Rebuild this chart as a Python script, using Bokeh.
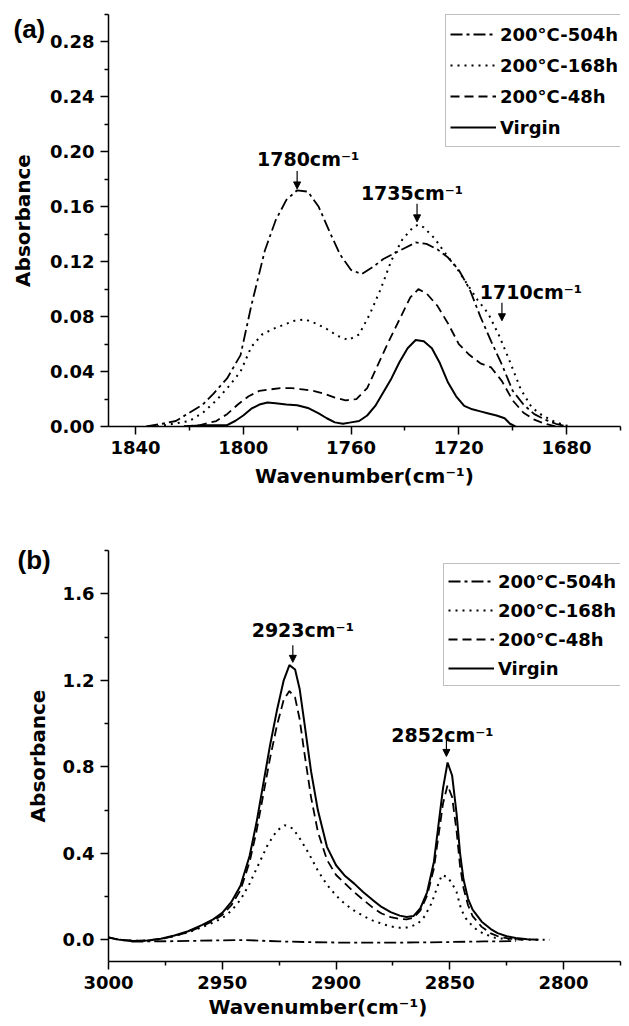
import math
from bokeh.plotting import figure
from bokeh.models import (Range1d, FixedTicker, NumeralTickFormatter, Legend, LegendItem,
                          Label, Arrow, NormalHead, Title)
from bokeh.layouts import column
from bokeh.embed import file_html
from bokeh.resources import INLINE

# ---------------- data ----------------
series_labels = ["200°C-504h", "200°C-168h", "200°C-48h", "Virgin"]

# panel (a): 1850-1660 cm-1
a_x504 = [1836, 1830, 1825, 1820, 1815, 1811, 1806, 1801, 1797, 1792, 1788, 1784, 1780, 1776,
          1772, 1768, 1764, 1760, 1756, 1752, 1748, 1744, 1740, 1736, 1732, 1728, 1724, 1720,
          1716, 1712, 1708, 1704, 1700, 1696, 1692, 1688, 1684, 1680]
a_y504 = [0.000, 0.002, 0.004, 0.010, 0.016, 0.024, 0.035, 0.052, 0.088, 0.128, 0.150, 0.165,
          0.172, 0.171, 0.160, 0.142, 0.125, 0.114, 0.111, 0.116, 0.122, 0.126, 0.130, 0.134,
          0.133, 0.129, 0.123, 0.114, 0.100, 0.080, 0.062, 0.045, 0.026, 0.016, 0.009, 0.005,
          0.002, 0.000]

a_x168 = [1832, 1826, 1820, 1815, 1810, 1805, 1801, 1797, 1793, 1789, 1785, 1781, 1777, 1773,
          1769, 1765, 1761, 1757, 1753, 1749, 1745, 1741, 1737, 1735, 1733, 1729, 1725, 1721,
          1717, 1713, 1709, 1705, 1701, 1697, 1693, 1689, 1685, 1681, 1678]
a_y168 = [0.000, 0.002, 0.004, 0.010, 0.019, 0.030, 0.040, 0.058, 0.067, 0.071, 0.074, 0.077,
          0.078, 0.075, 0.071, 0.066, 0.063, 0.067, 0.082, 0.100, 0.121, 0.136, 0.145, 0.147,
          0.145, 0.137, 0.126, 0.116, 0.104, 0.092, 0.082, 0.066, 0.047, 0.027, 0.014, 0.008,
          0.004, 0.001, 0.000]

a_x48 = [1822, 1816, 1810, 1806, 1802, 1798, 1794, 1790, 1786, 1782, 1778, 1774, 1770, 1766,
         1762, 1758, 1754, 1750, 1746, 1742, 1738, 1735, 1732, 1728, 1724, 1720, 1716, 1712,
         1708, 1704, 1700, 1696, 1692, 1688, 1684]
a_y48 = [0.000, 0.001, 0.004, 0.009, 0.016, 0.022, 0.026, 0.027, 0.028, 0.028, 0.027, 0.026,
         0.024, 0.021, 0.019, 0.020, 0.028, 0.045, 0.062, 0.078, 0.094, 0.100, 0.097, 0.088,
         0.075, 0.060, 0.052, 0.046, 0.043, 0.033, 0.019, 0.010, 0.005, 0.002, 0.000]

a_xv = [1822, 1815, 1810, 1806, 1803, 1800, 1797, 1794, 1791, 1788, 1784, 1780, 1776, 1772,
        1769, 1766, 1763, 1760, 1757, 1754, 1751, 1748, 1745, 1742, 1739, 1736, 1733, 1730,
        1727, 1724, 1721, 1718, 1715, 1712, 1709, 1706, 1703, 1701, 1699]
a_yv = [0.000, 0.001, 0.001, 0.001, 0.004, 0.008, 0.013, 0.016, 0.0175, 0.017, 0.016, 0.0155,
        0.0135, 0.0095, 0.006, 0.003, 0.002, 0.003, 0.004, 0.008, 0.015, 0.025, 0.035, 0.047,
        0.057, 0.063, 0.062, 0.057, 0.046, 0.032, 0.022, 0.015, 0.0125, 0.011, 0.0095, 0.008,
        0.006, 0.002, 0.000]

a_ann_x = [1780, 1735.5, 1704]
a_ann_y = [0.173, 0.149, 0.077]
a_ann_text = ["1780cm⁻¹", "1735cm⁻¹", "1710cm⁻¹"]

# panel (b): 3000-2775 cm-1
b_x504 = [2990, 2970, 2950, 2940, 2925, 2910, 2895, 2880, 2865, 2850, 2835, 2821]
b_y504 = [-0.008, -0.006, -0.002, -0.001, -0.007, -0.011, -0.013, -0.013, -0.012, -0.010,
          -0.007, -0.006]

b_x168 = [3000, 2995, 2989, 2983, 2977, 2971, 2965, 2959, 2954, 2950, 2946, 2942, 2938, 2934,
          2930, 2926, 2922.5, 2919, 2916, 2912, 2908, 2904, 2900, 2896, 2892, 2888, 2884, 2880,
          2876, 2872, 2868, 2864, 2861, 2858, 2855.5, 2853.5, 2851, 2849, 2847, 2845, 2843,
          2841, 2838, 2835, 2830, 2824, 2815, 2806]
b_y168 = [0.011, 0.000, -0.005, -0.003, 0.004, 0.018, 0.035, 0.058, 0.080, 0.100, 0.135, 0.185,
          0.260, 0.350, 0.440, 0.505, 0.530, 0.515, 0.470, 0.400, 0.320, 0.255, 0.205, 0.165,
          0.135, 0.110, 0.090, 0.075, 0.062, 0.056, 0.058, 0.075, 0.110, 0.170, 0.245, 0.300,
          0.290, 0.260, 0.220, 0.140, 0.100, 0.075, 0.045, 0.028, 0.009, 0.003, 0.001, 0.000]

b_x48 = [3000, 2995, 2989, 2983, 2977, 2971, 2965, 2959, 2954, 2950, 2946, 2942, 2938, 2935,
         2932, 2929, 2926, 2923, 2920.5, 2918, 2916, 2914, 2911, 2908, 2904, 2900, 2896, 2892,
         2888, 2884, 2880, 2876, 2872, 2869, 2866, 2863, 2860, 2857, 2855, 2853, 2851, 2849,
         2847, 2845.5, 2844, 2842, 2840, 2836, 2832, 2828, 2823, 2818]
b_y48 = [0.011, 0.000, -0.005, -0.003, 0.004, 0.018, 0.036, 0.062, 0.088, 0.115, 0.160, 0.230,
         0.360, 0.500, 0.670, 0.840, 0.990, 1.110, 1.150, 1.120, 1.020, 0.870, 0.660, 0.500,
         0.370, 0.300, 0.260, 0.220, 0.185, 0.150, 0.122, 0.105, 0.096, 0.095, 0.102, 0.135,
         0.205, 0.330, 0.480, 0.630, 0.715, 0.660, 0.500, 0.340, 0.240, 0.160, 0.110, 0.060,
         0.030, 0.013, 0.005, 0.000]

b_xv = [3000, 2995, 2989, 2983, 2977, 2971, 2965, 2959, 2954, 2950, 2946, 2942, 2938, 2935,
        2932, 2929, 2926, 2923, 2920.5, 2918, 2916, 2914, 2911, 2908, 2904, 2900, 2896, 2892,
        2888, 2884, 2880, 2876, 2872, 2869, 2866, 2863, 2860, 2857, 2855, 2853, 2851, 2849,
        2847, 2845.5, 2844, 2842, 2840, 2836, 2832, 2829, 2825, 2821, 2816, 2811]
b_yv = [0.011, 0.000, -0.005, -0.003, 0.005, 0.020, 0.040, 0.068, 0.095, 0.125, 0.175, 0.250,
        0.388, 0.540, 0.720, 0.900, 1.060, 1.200, 1.270, 1.250, 1.160, 1.010, 0.780, 0.600,
        0.430, 0.345, 0.295, 0.260, 0.220, 0.185, 0.152, 0.128, 0.112, 0.106, 0.110, 0.145,
        0.220, 0.360, 0.530, 0.700, 0.820, 0.760, 0.580, 0.400, 0.280, 0.190, 0.140, 0.084,
        0.050, 0.031, 0.017, 0.009, 0.003, 0.000]

b_ann_x = [2919, 2851.5]
b_ann_y = [1.283, 0.848]
b_ann_text = ["2923cm⁻¹", "2852cm⁻¹"]

# ---------------- styles ----------------
FONT = "DejaVu Sans"
TAG_FONT = "Liberation Sans"
DASHES = ["12 4 3 4", "2 5", "9 5", "solid"]
WIDTHS = [1.8, 2.0, 1.8, 2.0]
W = 629
LEFT = 108
FRAME_W = 512
RIGHT = W - LEFT - FRAME_W


def panel(tag, tag_standoff, xs_list, ys_list, xr, yr, xt, xmt, yt, ymt, yfmt,
          ann_x, ann_y, ann_text, ann_dx, ann_dy, arrow_px,
          height, top, bottom, leg_xy, leg_lh, leg_sp,
          tag_offset, ylabel_standoff, xtitle_align, xtitle_offset, xtitle_standoff):
    frame_h = height - top - bottom
    p = figure(width=W, height=height, x_range=Range1d(*xr), y_range=Range1d(*yr),
               output_backend="svg", toolbar_location=None,
               min_border_left=LEFT, min_border_right=RIGHT,
               min_border_top=top, min_border_bottom=bottom)
    p.outline_line_color = None
    p.grid.visible = False
    p.background_fill_color = "white"
    p.border_fill_color = "white"

    p.xaxis.ticker = FixedTicker(ticks=xt, minor_ticks=xmt)
    p.yaxis.ticker = FixedTicker(ticks=yt, minor_ticks=ymt)
    p.xaxis.formatter = NumeralTickFormatter(format="0")
    p.yaxis.formatter = NumeralTickFormatter(format=yfmt)
    for ax in (p.xaxis[0], p.yaxis[0]):
        ax.axis_line_width = 1.5
        ax.axis_line_color = "black"
        ax.major_tick_line_width = 1.5
        ax.minor_tick_line_width = 1.5
        ax.major_tick_line_color = "black"
        ax.minor_tick_line_color = "black"
        ax.major_tick_in = 0
        ax.major_tick_out = 8
        ax.minor_tick_in = 0
        ax.minor_tick_out = 4
        ax.major_label_text_font = FONT
        ax.major_label_text_font_style = "bold"
        ax.major_label_text_font_size = "18px"
        ax.major_label_text_color = "black"
        ax.major_label_standoff = 6
    yax = p.yaxis[0]
    yax.axis_label = "Absorbance"
    yax.axis_label_text_font = FONT
    yax.axis_label_text_font_style = "bold"
    yax.axis_label_text_font_size = "20px"
    yax.axis_label_text_color = "black"
    yax.axis_label_standoff = ylabel_standoff

    # x axis title, placed below the x axis
    p.add_layout(Title(text="Wavenumber(cm⁻¹)", align=xtitle_align, offset=xtitle_offset,
                       standoff=xtitle_standoff, text_font=FONT, text_font_style="bold",
                       text_font_size="20px", text_color="black"), "below")

    # panel tag "(a)" / "(b)" at the top left, beside the y axis
    p.add_layout(Title(text=tag, align="left", offset=tag_offset, vertical_align="bottom",
                       standoff=tag_standoff, text_font=TAG_FONT, text_font_style="bold",
                       text_font_size="26px", text_color="black"), "above")

    rs = []
    for xs, ys, dash, w in zip(xs_list, ys_list, DASHES, WIDTHS):
        rs.append(p.line(xs, ys, line_color="black", line_width=w, line_dash=dash))

    items = [LegendItem(label=lab, renderers=[r]) for lab, r in zip(series_labels, rs)]
    leg = Legend(items=items, location=leg_xy, padding=4, spacing=leg_sp,
                 label_height=leg_lh, glyph_height=20, glyph_width=46, label_standoff=4,
                 margin=0, border_line_color="#808080", border_line_width=1.5,
                 background_fill_color="white", background_fill_alpha=1.0,
                 label_text_font=FONT, label_text_font_style="bold",
                 label_text_font_size="18px", label_text_color="black")
    p.add_layout(leg)

    ppu = frame_h / (yr[1] - yr[0])
    for x, y, t, dx, dy in zip(ann_x, ann_y, ann_text, ann_dx, ann_dy):
        p.add_layout(Arrow(end=NormalHead(size=7, fill_color="black", line_color="black",
                                          line_width=1),
                           x_start=x, y_start=y + arrow_px / ppu, x_end=x, y_end=y,
                           line_width=1.2, line_color="black"))
        p.add_layout(Label(x=x, y=y, x_offset=dx, y_offset=dy, text=t,
                           text_align="center", text_baseline="alphabetic",
                           text_font=FONT, text_font_style="bold", text_font_size="19px",
                           text_color="black"))
    return p


pa = panel("(a)", -58, [a_x504, a_x168, a_x48, a_xv], [a_y504, a_y168, a_y48, a_yv],
           (1850, 1660), (0.0, 0.30),
           [1840, 1800, 1760, 1720, 1680], [1820, 1780, 1740, 1700, 1660],
           [0.0, 0.04, 0.08, 0.12, 0.16, 0.20, 0.24, 0.28],
           [0.02, 0.06, 0.10, 0.14, 0.18, 0.22, 0.26, 0.30], "0.00",
           a_ann_x, a_ann_y, a_ann_text, [11, -5, 29], [30, 29, 29], 18,
           498, 14, 72, (337, 279), 30, 1,
           -95, 12, "center", 0, 10)

pb = panel("(b)", -48, [b_x504, b_x168, b_x48, b_xv], [b_y504, b_y168, b_y48, b_yv],
           (3000, 2775), (-0.1, 1.8),
           [3000, 2950, 2900, 2850, 2800], [2975, 2925, 2875, 2825, 2775],
           [0.0, 0.4, 0.8, 1.2, 1.6],
           [0.2, 0.6, 1.0, 1.4, 1.8], "0.0",
           b_ann_x, b_ann_y, b_ann_text, [10, -4], [32, 21], 17,
           528, 52, 65, (335, 275), 26, 3,
           -91, 10, "left", 100, 3)

layout = column(pa, pb, spacing=0)
open("out.html", "w").write(file_html(layout, INLINE))
